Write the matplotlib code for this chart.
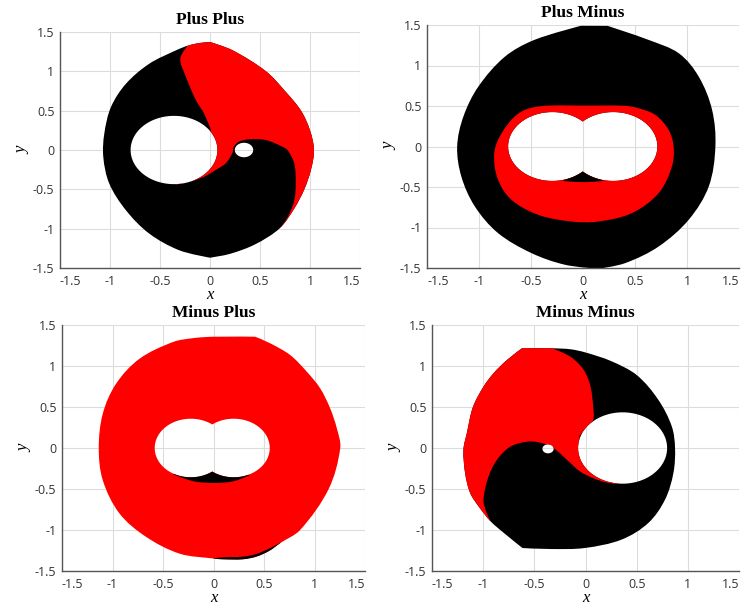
import numpy as np
import matplotlib
matplotlib.use("Agg")
import matplotlib.pyplot as plt
from matplotlib.path import Path
from matplotlib.patches import PathPatch

plt.rcParams['font.family'] = ['Open Sans', 'DejaVu Sans']

RED = '#ff0000'
BLACK = '#000000'

ticks = [-1.5, -1, -0.5, 0, 0.5, 1, 1.5]
tick_labels = ['-1.5', '-1', '-0.5', '0', '0.5', '1', '1.5']

# ---- Plus Plus: black body, red wedge ----
pp_outer_x = [0.0, 0.227, 0.56, 0.75, 0.91, 1.0, 1.04, 1.01, 0.943, 0.84, 0.693, 0.45, 0.2,
              0.0, -0.307, -0.607, -0.84, -1.007, -1.067, -1.057, -0.99, -0.84, -0.607, -0.34, -0.223, -0.107]
pp_outer_y = [1.373, 1.267, 1.0, 0.75, 0.5, 0.25, 0.0, -0.25, -0.5, -0.75, -1.0, -1.2, -1.32,
              -1.369, -1.275, -1.063, -0.767, -0.428, -0.089, 0.208, 0.547, 0.843, 1.097, 1.267, 1.326, 1.36]
pp_outer_corners = [0, 13]
pp_red_x = [-0.223, -0.25, 1.4, 1.4, 0.69, 0.777, 0.843, 0.857, 0.843, 0.777, 0.723, 0.557, 0.39,
            0.29, 0.24, 0.223, 0.157, 0.057, -0.043, -0.143, -0.243, -0.34, -0.3, -0.05, 0.01,
            -0.06, -0.14, -0.24, -0.297]
pp_red_y = [1.326, 1.6, 1.6, -1.4, -1.01, -0.852, -0.64, -0.42, -0.174, -0.004, 0.042, 0.127, 0.136,
            0.105, 0.042, -0.042, -0.169, -0.254, -0.33, -0.381, -0.415, -0.44, -0.2, 0.1, 0.25,
            0.466, 0.631, 0.928, 1.161]
pp_red_corners = [0, 1, 2, 3, 4, 21, 22, 23, 24]
pp_holes = [(-0.36, 0.0, 0.434), (0.34, 0.0, 0.092)]

# ---- Plus Minus: black body, red ring round a double hole ----
pm_outer_x = [-0.02, 0.237, 0.622, 0.92, 1.112, 1.241, 1.273, 1.209, 1.016, 0.727, 0.405, 0.148,
              -0.173, -0.494, -0.816, -1.04, -1.17, -1.21, -1.15, -1.006, -0.75, -0.468]
pm_outer_y = [1.49, 1.489, 1.32, 1.152, 0.864, 0.453, 0.0, -0.494, -0.905, -1.235, -1.44, -1.51,
              -1.46, -1.317, -1.07, -0.74, -0.37, 0.0, 0.37, 0.74, 1.11, 1.316]
pm_outer_corners = [0, 1, 11]
pm_red_x = [-0.365, 0.0, 0.405, 0.532, 0.694, 0.823, 0.871, 0.855, 0.727, 0.469, 0.148, -0.109,
            -0.43, -0.688, -0.817, -0.855, -0.817, -0.688, -0.558]
pm_red_y = [0.502, 0.505, 0.502, 0.473, 0.391, 0.206, 0.0, -0.247, -0.576, -0.823, -0.926, -0.926,
            -0.844, -0.658, -0.41, -0.123, 0.082, 0.329, 0.453]
pm_dark_x = [-0.2, -0.1, 0.0, 0.1, 0.2, 0.0]
pm_dark_y = [-0.425, -0.435, -0.44, -0.435, -0.425, -0.3]
pm_dark_corners = [0, 4, 5]
pm_holes = [(-0.295, 0.0, 0.425), (0.29, 0.0, 0.425)]

# ---- Minus Plus: red body with two thin black pieces ----
mp_outer_x = [0.0, 0.413, 0.561, 0.759, 0.924, 1.056, 1.155, 1.221, 1.255, 1.14, 0.858, 0.66, 0.554,
              0.423, 0.29, 0.092, 0.0, -0.334, -0.666, -0.93, -1.096, -1.136, -1.096, -0.964, -0.732,
              -0.4, -0.2]
mp_outer_y = [1.357, 1.357, 1.277, 1.134, 0.93, 0.728, 0.484, 0.24, 0.0, -0.5, -1.0, -1.16, -1.253,
              -1.325, -1.357, -1.357, -1.348, -1.289, -1.085, -0.8, -0.394, 0.0, 0.419, 0.785, 1.089,
              1.293, 1.34]
mp_outer_corners = [1]
mp_edge_x = [0.0, 0.092, 0.29, 0.423, 0.554, 0.66, 0.9, 0.9, 0.0]
mp_edge_y = [-1.346, -1.333, -1.325, -1.293, -1.225, -1.155, -1.3, -1.6, -1.6]
mp_edge_corners = [0, 5, 6, 7, 8]
mp_dark_x = [-0.4, -0.2, 0.0, 0.2, 0.36, 0.0]
mp_dark_y = [-0.32, -0.405, -0.427, -0.405, -0.33, -0.2]
mp_dark_corners = [0, 4, 5]
mp_holes = [(-0.225, 0.0, 0.357), (0.2, 0.0, 0.357)]

# ---- Minus Minus: black body, red wedge ----
mm_outer_x = [-0.621, -0.326, -0.147, 0.0, 0.25, 0.5, 0.711, 0.843, 0.875, 0.859, 0.777, 0.613,
              0.351, -0.01, -0.338, -0.616, -0.797, -0.928, -1.04, -1.127, -1.176, -1.193, -1.16,
              -1.1, -0.997, -0.899, -0.768]
mm_outer_y = [1.216, 1.216, 1.204, 1.165, 1.06, 0.89, 0.589, 0.264, 0.0, -0.305, -0.63, -0.915,
              -1.118, -1.22, -1.232, -1.22, -1.037, -0.894, -0.72, -0.55, -0.31, -0.02, 0.18,
              0.5, 0.748, 0.911, 1.073]
mm_outer_corners = [0, 15]
mm_red_x = [-0.326, -0.147, -0.017, 0.049, 0.075, 0.075, 0.016, -0.065, 0.1, 0.2, 0.32,
            0.2, 0.08, -0.049, -0.18, -0.31, -0.441, -0.572, -0.735, -0.866, -0.948, -0.997, -0.97,
            -0.928, -1.4, -1.4, -0.33]
mm_red_y = [1.216, 1.113, 0.951, 0.748, 0.504, 0.341, 0.26, 0.138, 0.0, -0.3, -0.44,
            -0.42, -0.37, -0.29, -0.146, -0.004, 0.065, 0.077, 0.016, -0.146, -0.35, -0.634, -0.78,
            -0.894, -1.2, 1.5, 1.5]
mm_red_corners = [0, 7, 8, 9, 10, 23, 24, 25, 26]
mm_holes = [(0.3625, 0.0, 0.435), (-0.366, -0.01, 0.055)]


def outline(xs, ys, corners=(), ccw=True):
    """Closed smooth outline through the given points; corners stay sharp."""
    pts = np.column_stack([xs, ys]).astype(float)
    n = len(pts)
    corners = set(corners)
    area = 0.5 * np.sum(pts[:, 0] * np.roll(pts[:, 1], -1) - np.roll(pts[:, 0], -1) * pts[:, 1])
    if (area > 0) != ccw:
        pts = pts[::-1]
        corners = {n - 1 - i for i in corners}
    tang = np.roll(pts, -1, axis=0) - np.roll(pts, 1, axis=0)
    tang /= np.linalg.norm(tang, axis=1)[:, None]
    for i in corners:
        tang[i] = 0.0
    verts = [pts[0]]
    codes = [Path.MOVETO]
    for i in range(n):
        j = (i + 1) % n
        seg = np.linalg.norm(pts[j] - pts[i]) / 3
        verts += [pts[i] + tang[i] * seg, pts[j] - tang[j] * seg, pts[j]]
        codes += [Path.CURVE4] * 3
    verts.append(pts[0])
    codes.append(Path.CLOSEPOLY)
    return Path(np.array(verts), codes)


def hole_paths(holes):
    """Clockwise outlines of the holes; two overlapping circles become one figure-eight."""
    holes = sorted(holes)
    if len(holes) == 2 and abs(holes[1][0] - holes[0][0]) < holes[0][2] + holes[1][2]:
        (x1, y1, r1), (x2, y2, r2) = holes
        d = x2 - x1
        a = (r1 ** 2 - r2 ** 2 + d ** 2) / (2 * d)
        h = np.sqrt(r1 ** 2 - a ** 2)
        a1 = np.arctan2(h, a)
        a2 = np.arctan2(h, x1 + a - x2)
        t1 = np.linspace(a1, 2 * np.pi - a1, 200)
        t2 = np.linspace(-a2, a2, 200)
        xs = np.concatenate([x1 + r1 * np.cos(t1), x2 + r2 * np.cos(t2)])
        ys = np.concatenate([y1 + r1 * np.sin(t1), y2 + r2 * np.sin(t2)])
        shapes = [(xs, ys)]
    else:
        t = np.linspace(0, 2 * np.pi, 160, endpoint=False)
        shapes = [(cx + r * np.cos(t), cy + r * np.sin(t)) for cx, cy, r in holes]
    out = []
    for xs, ys in shapes:
        pts = np.column_stack([xs, ys])[::-1]
        out.append(Path(np.vstack([pts, pts[:1]]), closed=True))
    return out


def panel(rect, title, outer, holes, body_color, pieces):
    ax = fig.add_axes(rect)
    body_path = Path.make_compound_path(outline(*outer), *hole_paths(holes))
    body = PathPatch(body_path, facecolor=body_color, edgecolor='none', zorder=1)
    ax.add_patch(body)
    for px, py, pc, color in pieces:
        piece = PathPatch(outline(px, py, pc), facecolor=color, edgecolor='none', zorder=1)
        ax.add_patch(piece)
        piece.set_clip_path(body)

    ax.set_xlim(-1.5, 1.5)
    ax.set_ylim(-1.5, 1.5)
    ax.set_xticks(ticks)
    ax.set_xticklabels(tick_labels)
    ax.set_yticks(ticks)
    ax.set_yticklabels(tick_labels)
    xl = ax.get_xticklabels()
    xl[0].set_ha('left')
    xl[-1].set_ha('right')
    ax.set_axisbelow(True)
    ax.grid(True, color='#dcdcdc', linewidth=0.8)
    for side in ('top', 'right'):
        ax.spines[side].set_visible(False)
    for side in ('left', 'bottom'):
        ax.spines[side].set_color('#555555')
        ax.spines[side].set_linewidth(1.0)
    ax.tick_params(length=0, labelsize=9, labelcolor='#333333')
    ax.tick_params(axis='x', pad=5)
    ax.tick_params(axis='y', pad=4)
    ax.set_title(title, fontsize=12.5, fontweight='bold', family='Liberation Serif', pad=6)
    ax.set_xlabel('x', fontsize=12, style='italic', family='Liberation Serif', labelpad=-1)
    ax.set_ylabel('y', fontsize=12, style='italic', family='Liberation Serif', labelpad=2)
    return ax


W, H = 742, 609
fig = plt.figure(figsize=(W / 100, H / 100), dpi=100)


def box(left, right, top, bottom):
    return [left / W, 1 - bottom / H, (right - left) / W, (bottom - top) / H]


panel(box(60, 360, 32, 268), 'Plus Plus',
      (pp_outer_x, pp_outer_y, pp_outer_corners), pp_holes, BLACK,
      [(pp_red_x, pp_red_y, pp_red_corners, RED)])
panel(box(427, 739, 25, 268), 'Plus Minus',
      (pm_outer_x, pm_outer_y, pm_outer_corners), pm_holes, BLACK,
      [(pm_red_x, pm_red_y, [], RED), (pm_dark_x, pm_dark_y, pm_dark_corners, BLACK)])
panel(box(62, 365, 325, 571), 'Minus Plus',
      (mp_outer_x, mp_outer_y, mp_outer_corners), mp_holes, RED,
      [(mp_edge_x, mp_edge_y, mp_edge_corners, BLACK), (mp_dark_x, mp_dark_y, mp_dark_corners, BLACK)])
panel(box(432, 739, 325, 571), 'Minus Minus',
      (mm_outer_x, mm_outer_y, mm_outer_corners), mm_holes, BLACK,
      [(mm_red_x, mm_red_y, mm_red_corners, RED)])

fig.savefig('out.png', dpi=100)
